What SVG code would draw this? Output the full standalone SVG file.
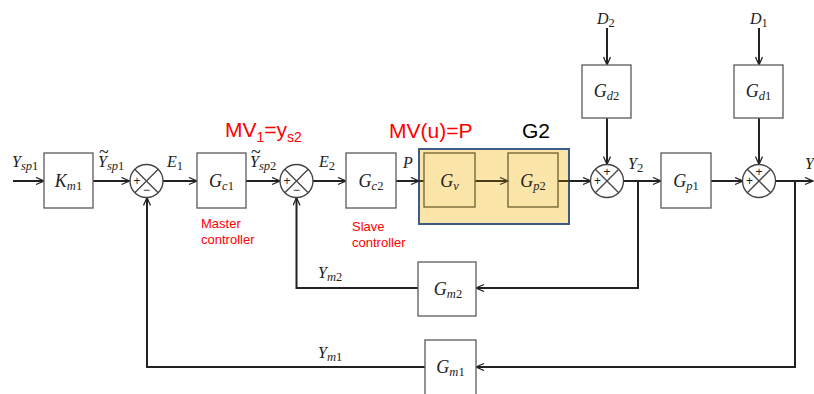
<svg xmlns="http://www.w3.org/2000/svg" width="814" height="394" viewBox="0 0 814 394">
<defs>
<marker id="arr" markerUnits="userSpaceOnUse" markerWidth="12" markerHeight="10" refX="9" refY="4" orient="auto">
<path d="M1,0.5 L9,4 L1,7.5" fill="none" stroke="#222" stroke-width="1.3"/>
</marker>
<marker id="arrb" markerUnits="userSpaceOnUse" markerWidth="12" markerHeight="10" refX="9" refY="4" orient="auto">
<path d="M1,0.5 L9,4 L1,7.5" fill="none" stroke="#4a3c18" stroke-width="1.3"/>
</marker>
<style>
.box{fill:#fff;stroke:#666;stroke-width:1.4}
.ybox{fill:none;stroke:#7a6a3a;stroke-width:1.4}
.sum{fill:#fff;stroke:#444;stroke-width:1.4}
.x{stroke:#444;stroke-width:1.3}
.ln{fill:none;stroke:#222;stroke-width:2}
.lnb{fill:none;stroke:#4a3c18;stroke-width:2}
.m{font-family:"Liberation Serif","DejaVu Serif",serif;font-style:italic;fill:#222}
.bl{font-size:18px}
.el{font-size:16px}
.sb{font-size:12.5px}
.up{font-style:normal}
.tt{font-size:18px;font-style:normal}
.pm{font-family:"Liberation Sans","DejaVu Sans",sans-serif;font-size:12px;fill:#222;text-anchor:middle}
.red{font-family:"Liberation Sans","Open Sans",sans-serif;fill:#ff0000}
.big{font-size:21px}
.small{font-size:13px}
</style>
</defs>
<rect width="814" height="394" fill="#fff"/>

<!-- highlight G2 -->
<rect id="g2-frame" x="419" y="149" width="150" height="75" fill="#fbe5a8" stroke="#3d5a88" stroke-width="2"/>

<g id="connectors">
<path class="ln" d="M13,181 H44" marker-end="url(#arr)"/>
<path class="ln" d="M93,181 H129.5" marker-end="url(#arr)"/>
<path class="ln" d="M163,181 H197" marker-end="url(#arr)"/>
<path class="ln" d="M246,181 H280" marker-end="url(#arr)"/>
<path class="ln" d="M313,181 H346" marker-end="url(#arr)"/>
<path class="ln" d="M396,181 H419" marker-end="url(#arr)"/>
<path class="lnb" d="M419,181 H424"/>
<path class="lnb" d="M475,181 H508" marker-end="url(#arrb)"/>
<path class="lnb" d="M558,181 H569"/>
<path class="ln" d="M569,181 H591" marker-end="url(#arr)"/>
<path class="ln" d="M623.5,181 H661" marker-end="url(#arr)"/>
<path class="ln" d="M711,181 H743" marker-end="url(#arr)"/>
<path class="ln" d="M775.5,181 H813" marker-end="url(#arr)"/>
<path class="ln" d="M607,28 V65" marker-end="url(#arr)"/>
<path class="ln" d="M607,118 V164.5" marker-end="url(#arr)"/>
<path class="ln" d="M759,28 V65" marker-end="url(#arr)"/>
<path class="ln" d="M759,118 V164.5" marker-end="url(#arr)"/>
<path class="ln" d="M638,181 V288 H476" marker-end="url(#arr)"/>
<path class="ln" d="M418,288 H296.5 V197.5" marker-end="url(#arr)"/>
<path class="ln" d="M795,181 V367 H476" marker-end="url(#arr)"/>
<path class="ln" d="M425,367 H147 V197.5" marker-end="url(#arr)"/>
</g>

<g id="Km1"><rect class="box" x="44" y="153" width="49" height="55"/>
<text class="m bl" x="68.5" y="187" text-anchor="middle">K<tspan class="sb" dy="3">m</tspan><tspan class="sb up">1</tspan></text></g>

<g id="sum1"><circle class="sum" cx="146.5" cy="181" r="16.5"/>
<path class="x" d="M134.8,169.3 L158.2,192.7 M158.2,169.3 L134.8,192.7"/>
<text class="pm" x="137" y="185">+</text><text class="pm" x="146.5" y="194">−</text></g>

<g id="Gc1"><rect class="box" x="197" y="153" width="49" height="55"/>
<text class="m bl" x="221.5" y="187" text-anchor="middle">G<tspan class="sb" dy="3">c</tspan><tspan class="sb up">1</tspan></text></g>

<g id="sum2"><circle class="sum" cx="296.5" cy="181" r="16.5"/>
<path class="x" d="M284.8,169.3 L308.2,192.7 M308.2,169.3 L284.8,192.7"/>
<text class="pm" x="287" y="185">+</text><text class="pm" x="296.5" y="194">−</text></g>

<g id="Gc2"><rect class="box" x="346" y="153" width="50" height="55"/>
<text class="m bl" x="371" y="187" text-anchor="middle">G<tspan class="sb" dy="3">c</tspan><tspan class="sb up">2</tspan></text></g>

<g id="Gv"><rect class="ybox" x="424" y="153" width="51" height="54"/>
<text class="m bl" x="449.5" y="187" text-anchor="middle" fill="#4a3c18">G<tspan class="sb" dy="3">v</tspan></text></g>

<g id="Gp2"><rect class="ybox" x="508" y="153" width="50" height="54"/>
<text class="m bl" x="533" y="187" text-anchor="middle" fill="#4a3c18">G<tspan class="sb" dy="3">p</tspan><tspan class="sb up">2</tspan></text></g>

<g id="Gd2"><rect class="box" x="582" y="65" width="49" height="53"/>
<text class="m bl" x="606.5" y="97" text-anchor="middle">G<tspan class="sb" dy="3">d</tspan><tspan class="sb up">2</tspan></text></g>

<g id="sum3"><circle class="sum" cx="607" cy="181" r="16.5"/>
<path class="x" d="M595.3,169.3 L618.7,192.7 M618.7,169.3 L595.3,192.7"/>
<text class="pm" x="607" y="176">+</text><text class="pm" x="597.5" y="185">+</text></g>

<g id="Gp1"><rect class="box" x="661" y="153" width="50" height="55"/>
<text class="m bl" x="686" y="187" text-anchor="middle">G<tspan class="sb" dy="3">p</tspan><tspan class="sb up">1</tspan></text></g>

<g id="Gd1"><rect class="box" x="734" y="65" width="49" height="53"/>
<text class="m bl" x="758.5" y="97" text-anchor="middle">G<tspan class="sb" dy="3">d</tspan><tspan class="sb up">1</tspan></text></g>

<g id="sum4"><circle class="sum" cx="759" cy="181" r="16.5"/>
<path class="x" d="M747.3,169.3 L770.7,192.7 M770.7,169.3 L747.3,192.7"/>
<text class="pm" x="759" y="176">+</text><text class="pm" x="749.5" y="185">+</text></g>

<g id="Gm2"><rect class="box" x="418" y="262" width="58" height="54"/>
<text class="m bl" x="448" y="295" text-anchor="middle">G<tspan class="sb" dy="3">m</tspan><tspan class="sb up">2</tspan></text></g>

<g id="Gm1"><rect class="box" x="425" y="340" width="51" height="56"/>
<text class="m bl" x="450.5" y="373" text-anchor="middle">G<tspan class="sb" dy="3">m</tspan><tspan class="sb up">1</tspan></text></g>

<g id="labels">
<text class="m el" x="12" y="167">Y<tspan class="sb" dy="3">sp</tspan><tspan class="sb up">1</tspan></text>
<text class="m el" x="98" y="167">Y<tspan class="sb" dy="3">sp</tspan><tspan class="sb up">1</tspan><tspan class="tt" x="99" y="158">~</tspan></text>
<text class="m el" x="167" y="167">E<tspan class="sb up" dy="3">1</tspan></text>
<text class="m el" x="250" y="167">Y<tspan class="sb" dy="3">sp</tspan><tspan class="sb up">2</tspan><tspan class="tt" x="251" y="158">~</tspan></text>
<text class="m el" x="319" y="167">E<tspan class="sb up" dy="3">2</tspan></text>
<text class="m el" x="403" y="168">P</text>
<text class="m el" x="628" y="169">Y<tspan class="sb up" dy="3">2</tspan></text>
<text class="m el" x="805" y="169">Y</text>
<text class="m el" x="597" y="24">D<tspan class="sb up" dy="3">2</tspan></text>
<text class="m el" x="750" y="24">D<tspan class="sb up" dy="3">1</tspan></text>
<text class="m el" x="318" y="278">Y<tspan class="sb" dy="3">m</tspan><tspan class="sb up">2</tspan></text>
<text class="m el" x="318" y="358">Y<tspan class="sb" dy="3">m</tspan><tspan class="sb up">1</tspan></text>
</g>

<g id="annotations">
<text class="red big" x="225" y="137">MV<tspan font-size="14" dy="5">1</tspan><tspan dy="-5">=y</tspan><tspan font-size="14" dy="5">s2</tspan></text>
<text class="red big" x="389" y="138">MV(u)=P</text>
<text class="big" x="522" y="138" font-family="Liberation Sans, Open Sans, sans-serif" fill="#000">G2</text>
<text class="red small" x="201" y="228">Master</text>
<text class="red small" x="201" y="244">controller</text>
<text class="red small" x="352" y="231">Slave</text>
<text class="red small" x="352" y="247">controller</text>
</g>
</svg>
